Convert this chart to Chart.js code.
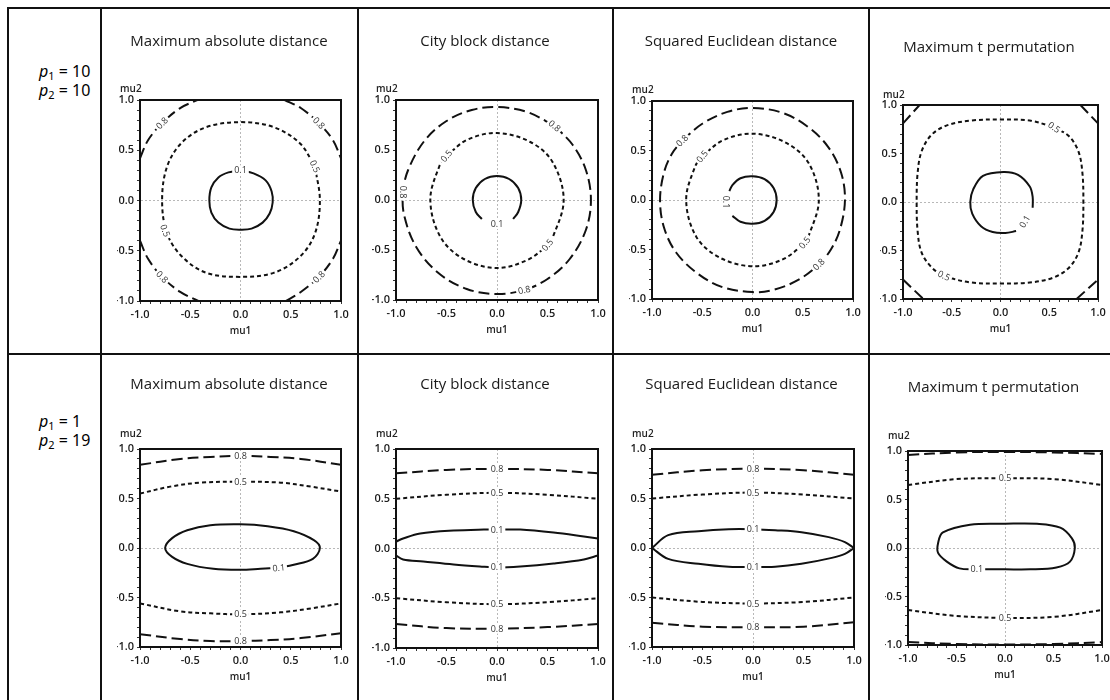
<!DOCTYPE html>
<html>
<head>
<meta charset="utf-8">
<script src="https://cdn.jsdelivr.net/npm/chart.js@4.4.1/dist/chart.umd.min.js"></script>
<style>
  body { margin: 0; background: #fff; width: 1110px; height: 700px; overflow: hidden; position: relative; }
  .line { position: absolute; background: #111; }
  .rowlab { position: absolute; left: 39px; font-family: "Noto Sans", sans-serif; font-size: 16px; line-height: 19px; color: #000; white-space: nowrap; }
  .rowlab sub { font-size: 11px; vertical-align: -3px; line-height: 0; }
  canvas { position: absolute; }
</style>
</head>
<body>

<script>
// Panel titles and row parameters
const titles = ["Maximum absolute distance", "City block distance", "Squared Euclidean distance", "Maximum t permutation"];
const rowParams = [["10", "10"], ["1", "19"]];
const axisTicks = [-1.0, -0.5, 0.0, 0.5, 1.0];

// ---- Row 1: p1 = 10, p2 = 10 ----
// Maximum absolute distance
const maxAbsA_01 = [[0,0.30],[0.13,0.27],[0.25,0.20],[0.31,0.09],[0.32,-0.02],[0.29,-0.13],[0.22,-0.22],[0.11,-0.28],[0,-0.29],[-0.11,-0.28],[-0.22,-0.22],[-0.29,-0.12],[-0.31,0],[-0.29,0.13],[-0.22,0.23],[-0.12,0.28],[0,0.30]];
const maxAbsA_05 = [[0.74,0.34],[0.79,0],[0.74,-0.33],[0.59,-0.56],[0.33,-0.72],[0,-0.76],[-0.34,-0.72],[-0.58,-0.56],[-0.73,-0.33],[-0.78,0],[-0.73,0.34],[-0.58,0.58],[-0.34,0.73],[0,0.78],[0.33,0.73],[0.59,0.57],[0.74,0.34]];
const maxAbsA_08tl = [[-1,0.42],[-0.92,0.6],[-0.78,0.77],[-0.6,0.92],[-0.43,1]];
const maxAbsA_08tr = [[0.44,1],[0.6,0.92],[0.78,0.77],[0.92,0.6],[1,0.42]];
const maxAbsA_08bl = [[-1,-0.40],[-0.92,-0.58],[-0.78,-0.76],[-0.6,-0.91],[-0.42,-1]];
const maxAbsA_08br = [[0.45,-1],[0.6,-0.91],[0.78,-0.76],[0.92,-0.58],[1,-0.40]];
const maxAbsA_labels = [[0,0.30,"0.1",0],[0.74,0.34,"0.5",65],[-0.75,-0.30,"0.5",70],[-0.78,0.77,"0.8",-45],[0.78,0.77,"0.8",45],[-0.78,-0.76,"0.8",45],[0.78,-0.76,"0.8",-45]];

// City block distance
const cityA_01 = [[-0.15,-0.19],[-0.21,-0.12],[-0.24,0],[-0.21,0.12],[-0.12,0.21],[0,0.24],[0.12,0.21],[0.21,0.12],[0.24,0],[0.21,-0.12],[0.16,-0.19]];
const cityA_05 = [[-0.5,0.44],[-0.3,0.6],[0,0.67],[0.33,0.58],[0.55,0.38],[0.66,0],[0.55,-0.38],[0.5,-0.45],[0.3,-0.6],[0,-0.68],[-0.33,-0.59],[-0.56,-0.37],[-0.66,0],[-0.57,0.34],[-0.5,0.44]];
const cityA_08 = [[0.57,0.74],[0.75,0.55],[0.88,0.3],[0.93,0],[0.88,-0.3],[0.72,-0.59],[0.5,-0.79],[0.27,-0.9],[0,-0.94],[-0.3,-0.89],[-0.58,-0.73],[-0.8,-0.47],[-0.92,-0.15],[-0.93,0.08],[-0.88,0.3],[-0.72,0.59],[-0.5,0.79],[-0.25,0.9],[0,0.93],[0.3,0.88],[0.57,0.74]];
const cityA_labels = [[0,-0.24,"0.1",0],[-0.5,0.44,"0.5",-50],[0.5,-0.45,"0.5",-50],[0.57,0.74,"0.8",40],[-0.93,0.08,"0.8",90],[0.27,-0.9,"0.8",-12]];

// Squared Euclidean distance
const sqEucA_01 = [[-0.2,-0.16],[-0.12,-0.22],[0,-0.24],[0.12,-0.21],[0.21,-0.12],[0.24,0],[0.21,0.12],[0.12,0.21],[0,0.24],[-0.12,0.22],[-0.2,0.15],[-0.23,0.09]];
const sqEucA_05 = [[-0.5,0.44],[-0.3,0.6],[0,0.67],[0.33,0.58],[0.56,0.37],[0.66,0],[0.56,-0.36],[0.52,-0.43],[0.3,-0.6],[0,-0.67],[-0.33,-0.58],[-0.56,-0.37],[-0.66,0],[-0.57,0.34],[-0.5,0.44]];
const sqEucA_08 = [[-0.7,0.6],[-0.5,0.77],[-0.25,0.89],[0,0.93],[0.3,0.88],[0.55,0.74],[0.75,0.54],[0.88,0.28],[0.92,0],[0.87,-0.3],[0.78,-0.5],[0.66,-0.65],[0.45,-0.81],[0.2,-0.91],[0,-0.93],[-0.3,-0.88],[-0.55,-0.74],[-0.76,-0.53],[-0.88,-0.28],[-0.92,0],[-0.88,0.28],[-0.8,0.47],[-0.7,0.6]];
const sqEucA_labels = [[-0.26,-0.02,"0.1",90],[-0.5,0.44,"0.5",-50],[0.52,-0.43,"0.5",-50],[-0.7,0.6,"0.8",-45],[0.66,-0.65,"0.8",-45]];

// Maximum t permutation
const maxTA_01 = [[0.33,-0.06],[0.33,0.05],[0.3,0.16],[0.18,0.28],[0.03,0.31],[-0.18,0.27],[-0.28,0.13],[-0.31,0],[-0.29,-0.12],[-0.2,-0.25],[-0.08,-0.31],[0.05,-0.32],[0.16,-0.3]];
const maxTA_05 = [[0.55,0.77],[0.7,0.68],[0.8,0.52],[0.84,0.3],[0.85,0],[0.84,-0.3],[0.8,-0.52],[0.7,-0.68],[0.54,-0.78],[0.3,-0.83],[0,-0.84],[-0.3,-0.83],[-0.58,-0.76],[-0.71,-0.67],[-0.81,-0.52],[-0.85,-0.3],[-0.86,0],[-0.85,0.3],[-0.81,0.52],[-0.71,0.69],[-0.55,0.79],[-0.3,0.84],[0,0.85],[0.3,0.84],[0.55,0.77]];
const maxTA_08tl = [[-1,0.81],[-0.83,1]];
const maxTA_08tr = [[0.82,1],[1,0.81]];
const maxTA_08bl = [[-1,-0.8],[-0.79,-1]];
const maxTA_08br = [[0.78,-1],[1,-0.8]];
const maxTA_labels = [[0.25,-0.2,"0.1",-60],[0.55,0.77,"0.5",35],[-0.58,-0.76,"0.5",25]];

// ---- Row 2: p1 = 1, p2 = 19 ----
const maxAbsB_01 = [[0.38,-0.2],[0.2,-0.21],[0,-0.22],[-0.27,-0.21],[-0.53,-0.16],[-0.68,-0.09],[-0.75,0],[-0.68,0.10],[-0.53,0.18],[-0.3,0.23],[0,0.24],[0.27,0.22],[0.53,0.17],[0.73,0.08],[0.79,0],[0.72,-0.11],[0.53,-0.17],[0.38,-0.2]];
const maxAbsB_05top = [[-1,0.55],[-0.7,0.62],[-0.4,0.66],[0,0.67],[0.4,0.66],[0.7,0.62],[1,0.57]];
const maxAbsB_05bot = [[-1,-0.56],[-0.6,-0.64],[-0.3,-0.66],[0,-0.67],[0.4,-0.65],[0.7,-0.61],[1,-0.56]];
const maxAbsB_08top = [[-1,0.84],[-0.6,0.9],[-0.3,0.92],[0,0.93],[0.3,0.92],[0.6,0.9],[1,0.84]];
const maxAbsB_08bot = [[-1,-0.87],[-0.6,-0.92],[-0.3,-0.94],[0,-0.94],[0.3,-0.93],[0.6,-0.91],[1,-0.86]];
const maxAbsB_labels = [[0,0.93,"0.8",0],[0,0.67,"0.5",0],[0.38,-0.2,"0.1",-5],[0,-0.67,"0.5",0],[0,-0.94,"0.8",0]];

const cityB_01top = [[-1,0.07],[-0.93,0.10],[-0.76,0.15],[-0.43,0.18],[-0.13,0.19],[0,0.19],[0.23,0.19],[0.56,0.16],[0.86,0.12],[1,0.10]];
const cityB_01bot = [[-1,-0.07],[-0.93,-0.11],[-0.73,-0.13],[-0.43,-0.16],[-0.17,-0.18],[0,-0.19],[0.23,-0.18],[0.56,-0.15],[0.86,-0.11],[1,-0.07]];
const cityB_05top = [[-1,0.50],[-0.5,0.54],[0,0.56],[0.5,0.54],[1,0.50]];
const cityB_05bot = [[-1,-0.50],[-0.5,-0.54],[0,-0.56],[0.5,-0.54],[1,-0.50]];
const cityB_08top = [[-1,0.755],[-0.5,0.79],[0,0.80],[0.5,0.79],[1,0.755]];
const cityB_08bot = [[-1,-0.76],[-0.5,-0.80],[0,-0.805],[0.5,-0.79],[1,-0.76]];
const cityB_labels = [[0,0.80,"0.8",0],[0,0.56,"0.5",0],[0,0.19,"0.1",0],[0,-0.19,"0.1",0],[0,-0.56,"0.5",0],[0,-0.805,"0.8",0]];

const sqEucB_01top = [[-1,0],[-0.84,0.13],[-0.54,0.17],[-0.24,0.19],[0,0.19],[0.22,0.18],[0.48,0.16],[0.75,0.11],[0.91,0.06],[1,0]];
const sqEucB_01bot = [[-1,0],[-0.84,-0.11],[-0.54,-0.16],[-0.24,-0.19],[0,-0.19],[0.22,-0.19],[0.48,-0.16],[0.78,-0.10],[0.91,-0.06],[1,0]];
const sqEucB_05top = [[-1,0.50],[-0.5,0.54],[0,0.56],[0.5,0.54],[1,0.50]];
const sqEucB_05bot = [[-1,-0.50],[-0.5,-0.545],[0,-0.56],[0.5,-0.545],[1,-0.50]];
const sqEucB_08top = [[-1,0.74],[-0.5,0.785],[0,0.80],[0.5,0.785],[1,0.74]];
const sqEucB_08bot = [[-1,-0.755],[-0.5,-0.795],[0,-0.80],[0.5,-0.795],[1,-0.75]];
const sqEucB_labels = [[0,0.80,"0.8",0],[0,0.56,"0.5",0],[0,0.19,"0.1",0],[0,-0.19,"0.1",0],[0,-0.56,"0.5",0],[0,-0.80,"0.8",0]];

const maxTB_01 = [[-0.29,-0.22],[-0.47,-0.21],[-0.6,-0.14],[-0.69,-0.05],[-0.69,0.05],[-0.64,0.16],[-0.36,0.24],[0,0.25],[0.33,0.25],[0.57,0.21],[0.69,0.10],[0.72,0],[0.67,-0.14],[0.53,-0.2],[0.26,-0.22],[0,-0.22],[-0.29,-0.22]];
const maxTB_05top = [[-1,0.65],[-0.5,0.71],[0,0.72],[0.5,0.71],[1,0.65]];
const maxTB_05bot = [[-1,-0.64],[-0.5,-0.70],[0,-0.72],[0.5,-0.71],[1,-0.64]];
const maxTB_08top = [[-1,0.96],[-0.5,0.985],[0,0.99],[0.5,0.985],[1,0.97]];
const maxTB_08bot = [[-1,-0.97],[-0.5,-0.99],[0,-0.995],[0.5,-0.99],[1,-0.97]];
const maxTB_labels = [[0,0.72,"0.5",0],[-0.29,-0.22,"0.1",0],[0,-0.72,"0.5",0]];

// contour level -> [pieces]
const panels = [
  { title: titles[0], c01: [maxAbsA_01], c05: [maxAbsA_05], c08: [maxAbsA_08tl, maxAbsA_08tr, maxAbsA_08bl, maxAbsA_08br], labels: maxAbsA_labels },
  { title: titles[1], c01: [cityA_01], c05: [cityA_05], c08: [cityA_08], labels: cityA_labels },
  { title: titles[2], c01: [sqEucA_01], c05: [sqEucA_05], c08: [sqEucA_08], labels: sqEucA_labels },
  { title: titles[3], c01: [maxTA_01], c05: [maxTA_05], c08: [maxTA_08tl, maxTA_08tr, maxTA_08bl, maxTA_08br], labels: maxTA_labels, straight08: true },
  { title: titles[0], c01: [maxAbsB_01], c05: [maxAbsB_05top, maxAbsB_05bot], c08: [maxAbsB_08top, maxAbsB_08bot], labels: maxAbsB_labels },
  { title: titles[1], c01: [cityB_01top, cityB_01bot], c05: [cityB_05top, cityB_05bot], c08: [cityB_08top, cityB_08bot], labels: cityB_labels },
  { title: titles[2], c01: [sqEucB_01top, sqEucB_01bot], c05: [sqEucB_05top, sqEucB_05bot], c08: [sqEucB_08top, sqEucB_08bot], labels: sqEucB_labels },
  { title: titles[3], c01: [maxTB_01], c05: [maxTB_05top, maxTB_05bot], c08: [maxTB_08top, maxTB_08bot], labels: maxTB_labels }
];

// Page layout (px): plot left, top, right, bottom, title centre x, title centre y, mu2 centre y
const BOXES = [
  [140, 100, 341, 301, 230, 42, 89],
  [396, 100, 598, 300, 485, 42, 89],
  [652, 101, 853, 299, 742, 42, 90],
  [903, 105, 1098, 299, 993, 48, 95],
  [140, 449, 341, 647, 229, 385, 434],
  [396, 449, 598, 648, 485, 385, 434],
  [652, 449, 854, 647, 742, 385, 434],
  [908, 451, 1102, 645, 994, 388, 436]
];

const DASH = { c01: [], c05: [4, 3], c08: [11, 5] };
const FONT = '"Open Sans", sans-serif';
Chart.defaults.font.family = FONT;

// table rules
function rule(x, y, w, h) {
  const d = document.createElement("div");
  d.className = "line";
  Object.assign(d.style, { left: x + "px", top: y + "px", width: w + "px", height: h + "px" });
  document.body.appendChild(d);
}
rule(7, 7, 1110, 2);
rule(7, 353, 1110, 2);
rule(7, 7, 2, 700);
[100, 357, 612, 868].forEach(x => rule(x, 7, 2, 700));

// row labels
[[62, 0], [412, 1]].forEach(([top, r]) => {
  const d = document.createElement("div");
  d.className = "rowlab";
  d.style.top = top + "px";
  d.innerHTML = `<i>p</i><sub>1</sub> = ${rowParams[r][0]}<br><i>p</i><sub>2</sub> = ${rowParams[r][1]}`;
  document.body.appendChild(d);
});

function isTick(v) {
  return axisTicks.some(t => Math.abs(t - v) < 1e-6);
}

// frame, contour labels and the mu2 caption
function framePlugin(labels, mu2Gap) {
  return {
    id: "frame",
    afterDatasetsDraw(chart) {
      const { ctx, chartArea: a, scales: { x, y } } = chart;
      ctx.save();
      ctx.setLineDash([]);
      ctx.font = "9px " + FONT;
      ctx.textAlign = "center";
      ctx.textBaseline = "middle";
      labels.forEach(([vx, vy, txt, rot]) => {
        const px = x.getPixelForValue(vx), py = y.getPixelForValue(vy);
        ctx.save();
        ctx.translate(px, py);
        ctx.rotate(rot * Math.PI / 180);
        const w = ctx.measureText(txt).width + 4;
        ctx.fillStyle = "#fff";
        ctx.fillRect(-w / 2, -5, w, 10);
        ctx.fillStyle = "#333";
        ctx.fillText(txt, 0, 0.5);
        ctx.restore();
      });
      ctx.strokeStyle = "#111";
      ctx.lineWidth = 2;
      ctx.strokeRect(a.left, a.top, a.right - a.left, a.bottom - a.top);
      ctx.font = "600 10px " + FONT;
      ctx.fillStyle = "#222";
      ctx.textAlign = "left";
      ctx.fillText("mu2", a.left - 20, a.top - mu2Gap);
      ctx.restore();
    }
  };
}

function axis(which, padL, titleText) {
  const a = {
    type: "linear", min: -1, max: 1,
    ticks: {
      stepSize: 0.1, autoSkip: false, maxRotation: 0, padding: which === "x" ? 4 : 3,
      color: "#1a1a1a", font: { size: 11, weight: "600", lineHeight: "13px" },
      callback: v => isTick(v) ? (Math.round(v * 2) / 2).toFixed(1) : ""
    },
    grid: {
      color: c => (c.tick && Math.abs(c.tick.value) < 1e-6) ? "#b8b8b8" : "rgba(0,0,0,0)",
      lineWidth: 1, tickLength: 3, tickColor: "#333", tickWidth: 1
    },
    border: { color: "#111", width: 2, dash: [2, 2] },
    afterFit: s => {
      if (which === "x") { s.height = 36; s.paddingLeft = 0; s.paddingRight = 0; }
      else { s.width = 39 - padL; s.paddingTop = 0; s.paddingBottom = 0; }
    }
  };
  if (titleText) {
    a.title = { display: true, text: titleText, color: "#222", font: { size: 10, weight: "600", lineHeight: "12px" }, padding: { top: 0, bottom: 0 } };
  }
  return a;
}

panels.forEach((p, i) => {
  const [L, T, R, B, tx, ty, my] = BOXES[i];
  const canvasLeft = L - 39, canvasTop = T - 100;
  const plotW = R - L;
  const padL = Math.min(16, Math.max(0, Math.round(2 * (tx - canvasLeft) - (39 + plotW))));
  const W = 39 + plotW + 16;
  const H = (B - canvasTop) + 36;
  const tPadTop = ty - canvasTop - 9;
  const tPadBottom = (T - canvasTop) - 18 - tPadTop;

  const cv = document.createElement("canvas");
  cv.width = W; cv.height = H;
  Object.assign(cv.style, { left: canvasLeft + "px", top: canvasTop + "px", width: W + "px", height: H + "px" });
  document.body.appendChild(cv);

  const datasets = [];
  ["c08", "c05", "c01"].forEach(level => {
    p[level].forEach(piece => {
      datasets.push({
        data: piece.map(([x, y]) => ({ x, y })),
        borderColor: "#111",
        borderWidth: 2,
        borderDash: DASH[level],
        pointRadius: 0,
        fill: false,
        tension: (level === "c08" && p.straight08) ? 0 : 0.35
      });
    });
  });

  new Chart(cv, {
    type: "line",
    data: { datasets },
    options: {
      responsive: false,
      animation: false,
      events: [],
      layout: { padding: { left: padL, right: 16, top: 0, bottom: 0 } },
      plugins: {
        legend: { display: false },
        tooltip: { enabled: false },
        title: {
          display: true, text: p.title, color: "#1a1a1a",
          font: { size: 15, weight: "normal", lineHeight: "18px" },
          padding: { top: tPadTop, bottom: tPadBottom }
        }
      },
      scales: { x: axis("x", padL, "mu1"), y: axis("y", padL) }
    },
    plugins: [framePlugin(p.labels, T - my)]
  });
});
</script>
</body>
</html>
